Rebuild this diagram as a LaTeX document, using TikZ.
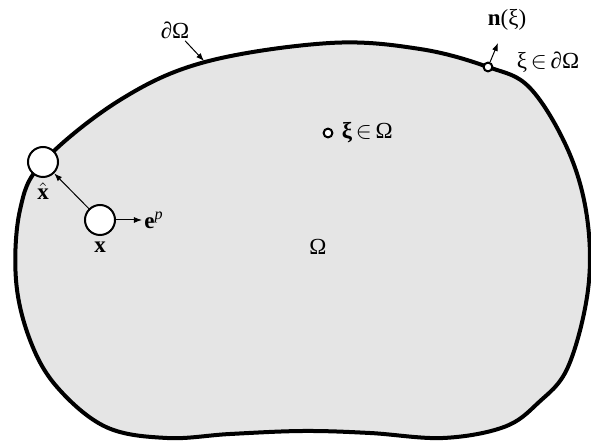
\documentclass[tikz,border=0pt]{standalone}
\usepackage{amsmath}
\usepackage{fontspec}
\setmainfont{Liberation Serif}
\usetikzlibrary{arrows.meta,positioning}

\begin{document}
\begin{tikzpicture}[
    x=0.5pt, y=-0.5pt,
    node distance=3pt and 3pt,
    region/.style={draw=black, line width=2pt, fill=black!10},
    hole/.style={draw=black, circle, fill=white, line width=1pt, minimum size=15pt, inner sep=0pt},
    dot/.style={draw=black, circle, fill=white, line width=1pt, minimum size=4.4pt, inner sep=0pt},
    lbl/.style={inner sep=1pt, font=\fontsize{11.5}{13}\selectfont},
    arrow/.style={-{Latex[length=4pt, width=3pt]}, line width=0.5pt, color=black}
]
\useasboundingbox (0,0) rectangle (591,443);

% Domain and its boundary
\draw[region] plot[smooth cycle, tension=0.6] coordinates {
    (43,162) (120,100) (205,62) (330,43) (420,49) (488,67) (530,88)
    (568,150) (587,217) (588,290) (568,367) (538,403) (504,427) (443,438)
    (370,433) (303,431) (230,434) (167,438) (106,427) (57,387) (30,340)
    (16,280) (20,210)};

% Source points
\node[hole] (xhat) at (43,162) {};
\node[hole] (xpt) at (100,220) {};
\node[lbl, below=1pt of xhat] (xhatlbl) {$\hat{\mathbf{x}}$};
\node[lbl, below=2pt of xpt] (xlbl) {$\mathbf{x}$};
\node[lbl, right=13pt of xpt] (ep) {$\mathbf{e}^{\mathit{p}}$};

% Field points
\node[dot] (xiin) at (328,133) {};
\node[lbl, right=3pt of xiin] (xiinlbl) {\textbf{ξ}\,$\in$\,Ω};
\node[dot] (xib) at (488,67) {};
\node[lbl] (xiblbl) at (548,62) {ξ\,$\in$\,∂Ω};
\coordinate (ntip) at (498,43);
\node[lbl] (nlbl) at (507,20) {\textbf{n}(ξ)};

% Domain labels
\node[lbl] (omega) at (318,247) {Ω};
\node[lbl] (dlbl) at (175,30) {∂Ω};
\coordinate (dtip) at (204,61);

\draw[arrow] (xpt) -- (xhat);
\draw[arrow] (xpt) -- (ep);
\draw[arrow] (xib) -- (ntip);
\draw[arrow] (dlbl) -- (dtip);

\end{tikzpicture}
\end{document}
